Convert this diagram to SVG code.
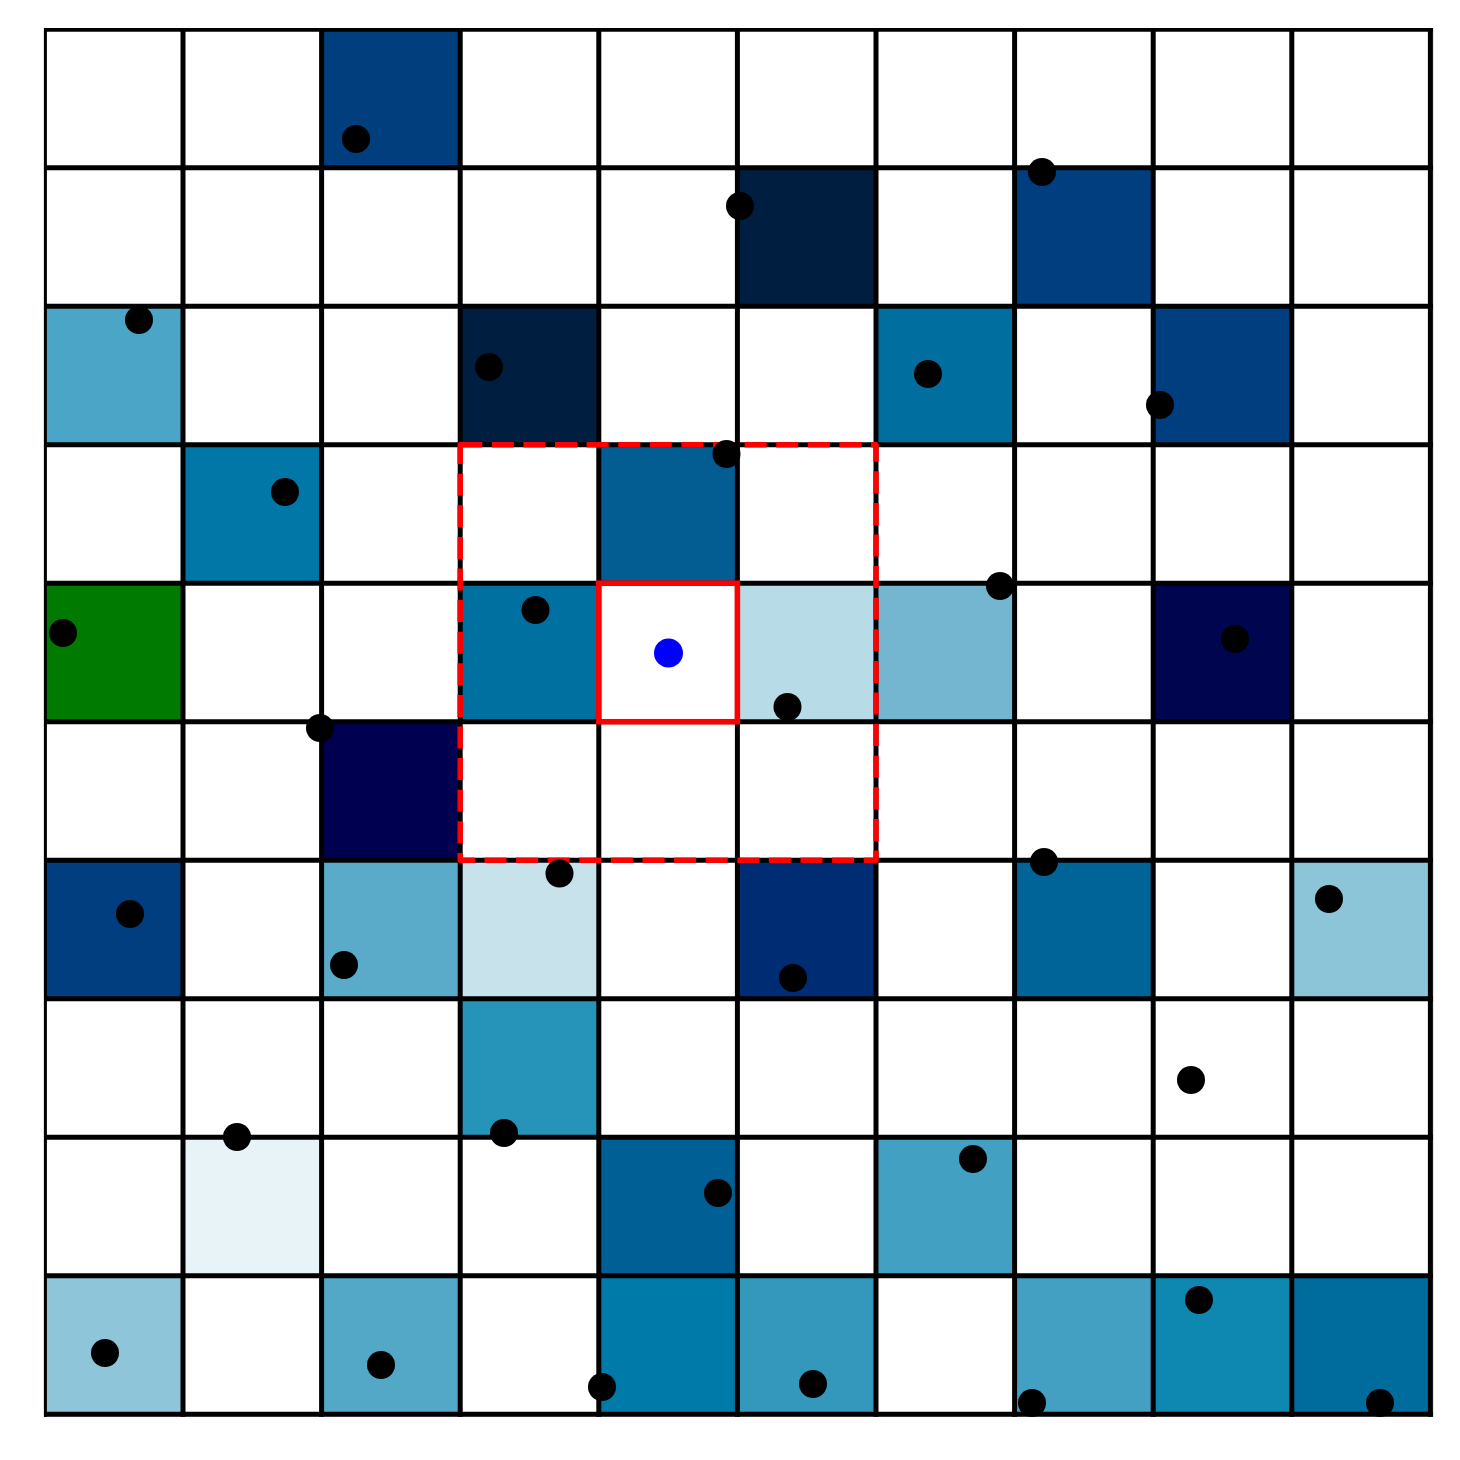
<svg xmlns="http://www.w3.org/2000/svg" width="1460" height="1460" viewBox="0 0 1460 1460">
<style>
.cell{stroke:#d0d0d0;stroke-width:0.8}
.grid line{stroke:#000;stroke-width:5}
.pt{fill:#000}
.sel{fill:#0000ff}
.win{fill:none;stroke:#ff0000;stroke-width:5.5;stroke-dasharray:22 9.6;stroke-linejoin:round}
.cur{fill:none;stroke:#ff0000;stroke-width:5.5}
</style>
<defs>
<clipPath id="area"><rect x="44" y="28" width="1389" height="1389"/></clipPath>
</defs>
<rect width="1460" height="1460" fill="#fff"/>
<rect x="43.7" y="28.7" width="1389.5" height="1388" fill="#fff" stroke="#d0d0d0" stroke-width="0.8"/>
<g id="cells">
<rect class="cell" x="321.6" y="29.2" width="138.6" height="138.5" fill="#003e7e"/>
<rect class="cell" x="737.4" y="167.7" width="138.6" height="138.5" fill="#001f40"/>
<rect class="cell" x="1014.6" y="167.7" width="138.6" height="138.5" fill="#003e7f"/>
<rect class="cell" x="44.4" y="306.2" width="138.6" height="138.5" fill="#4aa5c6"/>
<rect class="cell" x="460.2" y="306.2" width="138.6" height="138.5" fill="#001f40"/>
<rect class="cell" x="876" y="306.2" width="138.6" height="138.5" fill="#006e9e"/>
<rect class="cell" x="1153.2" y="306.2" width="138.6" height="138.5" fill="#003e7f"/>
<rect class="cell" x="183" y="444.7" width="138.6" height="138.5" fill="#0077a6"/>
<rect class="cell" x="598.8" y="444.7" width="138.6" height="138.5" fill="#035c92"/>
<rect class="cell" x="44.4" y="583.2" width="138.6" height="138.5" fill="#007a00"/>
<rect class="cell" x="460.2" y="583.2" width="138.6" height="138.5" fill="#0070a0"/>
<rect class="cell" x="737.4" y="583.2" width="138.6" height="138.5" fill="#b7dce7"/>
<rect class="cell" x="876" y="583.2" width="138.6" height="138.5" fill="#74b6d0"/>
<rect class="cell" x="1153.2" y="583.2" width="138.6" height="138.5" fill="#000550"/>
<rect class="cell" x="321.6" y="721.7" width="138.6" height="138.5" fill="#000050"/>
<rect class="cell" x="44.4" y="860.2" width="138.6" height="138.5" fill="#003e7f"/>
<rect class="cell" x="321.6" y="860.2" width="138.6" height="138.5" fill="#5aabc9"/>
<rect class="cell" x="460.2" y="860.2" width="138.6" height="138.5" fill="#c8e2ec"/>
<rect class="cell" x="737.4" y="860.2" width="138.6" height="138.5" fill="#002c73"/>
<rect class="cell" x="1014.6" y="860.2" width="138.6" height="138.5" fill="#006499"/>
<rect class="cell" x="1291.8" y="860.2" width="138.6" height="138.5" fill="#8cc4d8"/>
<rect class="cell" x="460.2" y="998.7" width="138.6" height="138.5" fill="#2693b8"/>
<rect class="cell" x="183" y="1137.2" width="138.6" height="138.5" fill="#e8f3f7"/>
<rect class="cell" x="598.8" y="1137.2" width="138.6" height="138.5" fill="#006096"/>
<rect class="cell" x="876" y="1137.2" width="138.6" height="138.5" fill="#42a0c2"/>
<rect class="cell" x="44.4" y="1275.7" width="138.6" height="138.5" fill="#8ec5d9"/>
<rect class="cell" x="321.6" y="1275.7" width="138.6" height="138.5" fill="#52a8c6"/>
<rect class="cell" x="598.8" y="1275.7" width="138.6" height="138.5" fill="#007aa8"/>
<rect class="cell" x="737.4" y="1275.7" width="138.6" height="138.5" fill="#3498bd"/>
<rect class="cell" x="1014.6" y="1275.7" width="138.6" height="138.5" fill="#43a0c2"/>
<rect class="cell" x="1153.2" y="1275.7" width="138.6" height="138.5" fill="#0f88b1"/>
<rect class="cell" x="1291.8" y="1275.7" width="138.6" height="138.5" fill="#006b9d"/>
</g>
<g id="grid" class="grid" clip-path="url(#area)">
<line x1="44.4" y1="26.7" x2="44.4" y2="1416.7"/>
<line x1="183" y1="26.7" x2="183" y2="1416.7"/>
<line x1="321.6" y1="26.7" x2="321.6" y2="1416.7"/>
<line x1="460.2" y1="26.7" x2="460.2" y2="1416.7"/>
<line x1="598.8" y1="26.7" x2="598.8" y2="1416.7"/>
<line x1="737.4" y1="26.7" x2="737.4" y2="1416.7"/>
<line x1="876" y1="26.7" x2="876" y2="1416.7"/>
<line x1="1014.6" y1="26.7" x2="1014.6" y2="1416.7"/>
<line x1="1153.2" y1="26.7" x2="1153.2" y2="1416.7"/>
<line x1="1291.8" y1="26.7" x2="1291.8" y2="1416.7"/>
<line x1="1430.4" y1="26.7" x2="1430.4" y2="1416.7"/>
<line x1="41.9" y1="29.2" x2="1432.9" y2="29.2"/>
<line x1="41.9" y1="167.7" x2="1432.9" y2="167.7"/>
<line x1="41.9" y1="306.2" x2="1432.9" y2="306.2"/>
<line x1="41.9" y1="444.7" x2="1432.9" y2="444.7"/>
<line x1="41.9" y1="583.2" x2="1432.9" y2="583.2"/>
<line x1="41.9" y1="721.7" x2="1432.9" y2="721.7"/>
<line x1="41.9" y1="860.2" x2="1432.9" y2="860.2"/>
<line x1="41.9" y1="998.7" x2="1432.9" y2="998.7"/>
<line x1="41.9" y1="1137.2" x2="1432.9" y2="1137.2"/>
<line x1="41.9" y1="1275.7" x2="1432.9" y2="1275.7"/>
<line x1="41.9" y1="1414.2" x2="1432.9" y2="1414.2"/>
</g>
<g id="window">
<rect class="win" x="460.2" y="444.7" width="415.8" height="415.5"/>
</g>
<g id="current-cell">
<rect class="cur" x="598.8" y="583.2" width="138.6" height="138.5"/>
</g>
<g id="points">
<circle class="pt" cx="356" cy="139" r="14"/>
<circle class="pt" cx="740" cy="206" r="14"/>
<circle class="pt" cx="1042" cy="172" r="14"/>
<circle class="pt" cx="139" cy="320" r="14"/>
<circle class="pt" cx="489" cy="367" r="14"/>
<circle class="pt" cx="928" cy="374" r="14"/>
<circle class="pt" cx="1160" cy="405" r="14"/>
<circle class="pt" cx="285" cy="492" r="14"/>
<circle class="pt" cx="726.5" cy="454" r="14"/>
<circle class="pt" cx="63" cy="633" r="14"/>
<circle class="pt" cx="535.5" cy="610" r="14"/>
<circle class="pt" cx="1000" cy="586" r="14"/>
<circle class="pt" cx="1235" cy="639" r="14"/>
<circle class="pt" cx="787.5" cy="707" r="14"/>
<circle class="pt" cx="320" cy="728" r="14"/>
<circle class="pt" cx="130" cy="914" r="14"/>
<circle class="pt" cx="559.5" cy="873.5" r="14"/>
<circle class="pt" cx="344" cy="965" r="14"/>
<circle class="pt" cx="793" cy="978" r="14"/>
<circle class="pt" cx="1044" cy="862" r="14"/>
<circle class="pt" cx="1329" cy="899" r="14"/>
<circle class="pt" cx="1191" cy="1080" r="14"/>
<circle class="pt" cx="237" cy="1137" r="14"/>
<circle class="pt" cx="504" cy="1133" r="14"/>
<circle class="pt" cx="973" cy="1159" r="14"/>
<circle class="pt" cx="718" cy="1193" r="14"/>
<circle class="pt" cx="105" cy="1353" r="14"/>
<circle class="pt" cx="381" cy="1365" r="14"/>
<circle class="pt" cx="602" cy="1387" r="14"/>
<circle class="pt" cx="813" cy="1384" r="14"/>
<circle class="pt" cx="1032" cy="1403" r="14"/>
<circle class="pt" cx="1199" cy="1300" r="14"/>
<circle class="pt" cx="1380" cy="1403" r="14"/>
</g>
<g id="query-point">
<circle class="sel" cx="668.5" cy="653" r="14.5"/>
</g>
</svg>
